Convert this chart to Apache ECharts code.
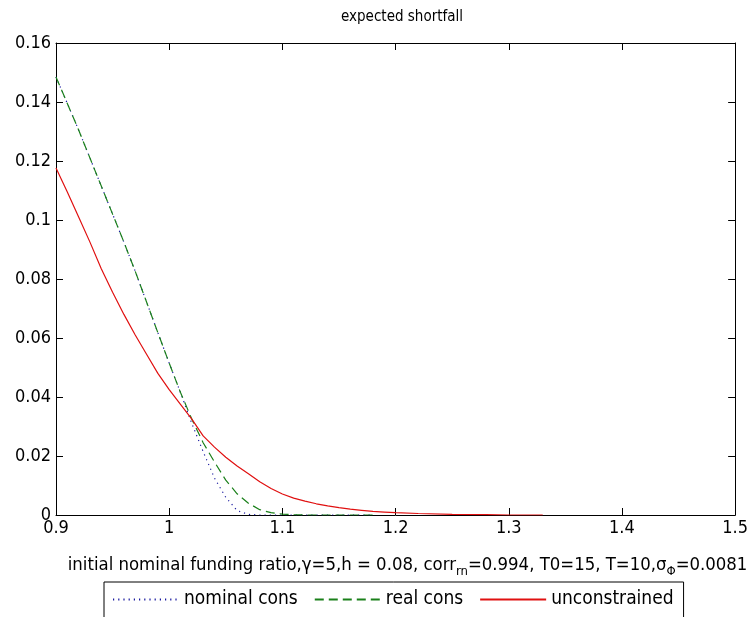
<!DOCTYPE html>
<html>
<head>
<meta charset="utf-8">
<script src="https://cdn.jsdelivr.net/npm/echarts@6/dist/echarts.min.js"></script>
<style>html,body{margin:0;padding:0;background:#fff;}#c{width:751px;height:617px;}</style>
</head>
<body>
<div id="c"></div>
<script>
// x grid (initial nominal funding ratio)
const xs = [0.90,0.91,0.92,0.93,0.94,0.95,0.96,0.97,0.98,0.99,1.00,1.01,1.02,1.03,1.04,1.05,1.06,1.07,1.08,1.09,1.10,1.11,1.12,1.13,1.14,1.15,1.16,1.17,1.18,1.19,1.20];
const nominalCons = [0.1485,0.1395,0.1305,0.1210,0.1115,0.1020,0.0925,0.0826,0.0722,0.0618,0.0515,0.0415,0.0310,0.0215,0.0125,0.0060,0.0015,0.0002,0,0,0,0,0,0,0,0,0,0,0,null,null];
const realCons = [0.1485,0.1395,0.1305,0.1210,0.1115,0.1020,0.0925,0.0826,0.0722,0.0618,0.0515,0.0415,0.0325,0.0245,0.0180,0.0118,0.0072,0.0040,0.0018,0.0008,0.0003,0.0001,0,0,0,0,0,0,0,null,null];
const unconstrained = [0.1176,0.1095,0.1010,0.0925,0.0835,0.0755,0.0680,0.0610,0.0545,0.0480,0.0425,0.0375,0.0325,0.0268,0.0230,0.0196,0.0166,0.0140,0.0113,0.0090,0.0071,0.0057,0.0047,0.0038,0.0031,0.0025,0.0020,0.0016,0.0012,0.0010,0.0008];
const xsTail = [1.22,1.25,1.28,1.30,1.33];
const unconstrainedTail = [0.0005,0.0002,0.0001,0.0000,0.0000];
const xTicks = [0.9,1,1.1,1.2,1.3,1.4,1.5];
const yTicks = [0,0.02,0.04,0.06,0.08,0.1,0.12,0.14,0.16];
const seriesNames = ['nominal cons','real cons','unconstrained'];

function pairs(x, y){ const out=[]; for(let i=0;i<x.length;i++){ if(y[i]!==null) out.push([x[i],y[i]]);} return out; }
const redData = pairs(xs, unconstrained).concat(pairs(xsTail, unconstrainedTail));

const FONT = '"DejaVu Sans Condensed","Liberation Sans Narrow","Liberation Sans",Arial,sans-serif';
const chart = echarts.init(document.getElementById('c'), null, {renderer:'canvas'});
const axisCommon = {
  type:'value',
  axisLine:{show:true,onZero:false,lineStyle:{color:'#000',width:1}},
  axisTick:{show:true,inside:true,length:7,lineStyle:{color:'#000'}},
  splitLine:{show:false}
};
chart.setOption({
  animation:false,
  backgroundColor:'#fff',
  title:{text:'expected shortfall',left:397,textAlign:'center',top:5,
    textStyle:{fontFamily:FONT,fontSize:15,fontWeight:'normal',color:'#000'}},
  grid:{left:56,top:43,right:14,bottom:102},
  legend:{
    data:seriesNames, bottom:-6, left:104,
    itemWidth:66, itemHeight:10, itemGap:16,
    padding:[8,10,14,8],
    borderColor:'#000', borderWidth:1, backgroundColor:'#fff',
    itemStyle:{opacity:0},
    textStyle:{fontFamily:FONT,fontSize:19,color:'#000'}
  },
  xAxis:[
    Object.assign({}, axisCommon, {min:0.9,max:1.5,interval:0.1,position:'bottom',
      axisLabel:{fontFamily:FONT,fontSize:18,color:'#000',margin:4,formatter:v=>String(+v.toFixed(2))},
      name:'{a|initial nominal funding ratio,γ=5,h = 0.08, corr}{s|rn}{a|=0.994, T0=15, T=10,σ}{s|Φ}{a|=0.0081}',
      nameLocation:'middle', nameGap:38,
      nameTextStyle:{padding:[0,0,0,24],rich:{a:{fontFamily:FONT,fontSize:18.4,color:'#000'},s:{fontFamily:FONT,fontSize:13,color:'#000',verticalAlign:'bottom',padding:[12,0,0,0]}}}
    }),
    Object.assign({}, axisCommon, {min:0.9,max:1.5,interval:0.1,position:'top',axisLabel:{show:false}})
  ],
  yAxis:[
    Object.assign({}, axisCommon, {min:0,max:0.16,interval:0.02,position:'left',
      axisLabel:{fontFamily:FONT,fontSize:18,color:'#000',margin:5,formatter:v=>String(+v.toFixed(2))}}),
    Object.assign({}, axisCommon, {min:0,max:0.16,interval:0.02,position:'right',axisLabel:{show:false}})
  ],
  series:[
    {name:seriesNames[0],type:'line',data:pairs(xs,nominalCons),showSymbol:false,symbol:'none',smooth:false,
      lineStyle:{color:'#1a1aa0',width:1.2,type:[1.2,4]},itemStyle:{color:'#1a1aa0'}},
    {name:seriesNames[1],type:'line',data:pairs(xs,realCons),showSymbol:false,symbol:'none',smooth:false,
      lineStyle:{color:'#1a801a',width:1.2,type:[9,5]},itemStyle:{color:'#1a801a'}},
    {name:seriesNames[2],type:'line',data:redData,showSymbol:false,symbol:'none',smooth:false,
      lineStyle:{color:'#e01010',width:1.2,type:'solid'},itemStyle:{color:'#e01010'}}
  ]
});
</script>
</body>
</html>
